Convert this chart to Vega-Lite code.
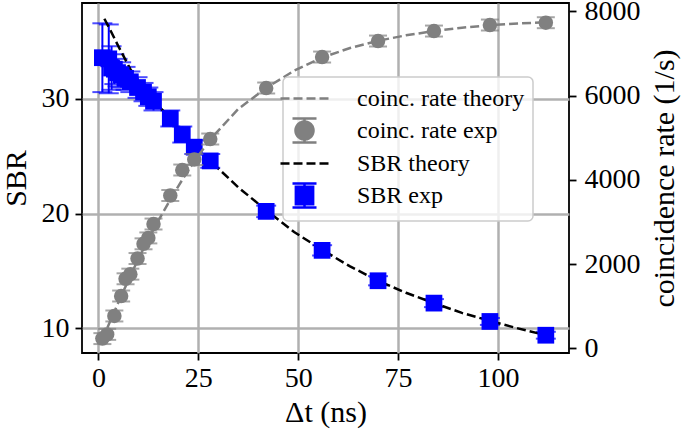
{
  "$schema": "https://vega.github.io/schema/vega-lite/v6.json",
  "width": 487,
  "height": 350,
  "autosize": {"type": "none"},
  "padding": {"left": 82, "top": 3, "right": 116, "bottom": 86},
  "background": "white",
  "datasets": {
    "sbr_exp": [
      {"dt": 1.0, "sbr": 33.6, "err": 3.0},
      {"dt": 2.6, "sbr": 33.5, "err": 3.0},
      {"dt": 3.3, "sbr": 32.7, "err": 1.9},
      {"dt": 4.0, "sbr": 32.6, "err": 1.3},
      {"dt": 4.8, "sbr": 32.3, "err": 1.2},
      {"dt": 5.7, "sbr": 32.1, "err": 1.1},
      {"dt": 6.8, "sbr": 31.8, "err": 1.0},
      {"dt": 8.0, "sbr": 31.5, "err": 0.9},
      {"dt": 9.8, "sbr": 31.0, "err": 0.9},
      {"dt": 11.3, "sbr": 30.6, "err": 0.8},
      {"dt": 12.5, "sbr": 30.2, "err": 0.8},
      {"dt": 13.8, "sbr": 29.8, "err": 0.8},
      {"dt": 18.0, "sbr": 28.3, "err": 0.7},
      {"dt": 21.0, "sbr": 26.9, "err": 0.7},
      {"dt": 24.0, "sbr": 25.8, "err": 0.6},
      {"dt": 28.0, "sbr": 24.6, "err": 0.6},
      {"dt": 42, "sbr": 20.2, "err": 0.5},
      {"dt": 56, "sbr": 16.8, "err": 0.45},
      {"dt": 70, "sbr": 14.15, "err": 0.4},
      {"dt": 84, "sbr": 12.2, "err": 0.35},
      {"dt": 98, "sbr": 10.6, "err": 0.3},
      {"dt": 112, "sbr": 9.4, "err": 0.3}
    ],
    "sbr_th": [
      {"dt": 1.5, "sbr": 37.0},
      {"dt": 3, "sbr": 36.0},
      {"dt": 5, "sbr": 34.6},
      {"dt": 8, "sbr": 32.6},
      {"dt": 10, "sbr": 31.6},
      {"dt": 12, "sbr": 30.6},
      {"dt": 14, "sbr": 29.8},
      {"dt": 18, "sbr": 28.3},
      {"dt": 21, "sbr": 27.0},
      {"dt": 24, "sbr": 25.8},
      {"dt": 28, "sbr": 24.6},
      {"dt": 35, "sbr": 22.3},
      {"dt": 42, "sbr": 20.3},
      {"dt": 49, "sbr": 18.4},
      {"dt": 56, "sbr": 16.85},
      {"dt": 63, "sbr": 15.4},
      {"dt": 70, "sbr": 14.15},
      {"dt": 77, "sbr": 13.1},
      {"dt": 84, "sbr": 12.2},
      {"dt": 91, "sbr": 11.35},
      {"dt": 98, "sbr": 10.65},
      {"dt": 105, "sbr": 10.0},
      {"dt": 112, "sbr": 9.4}
    ],
    "rate_exp": [
      {"dt": 1.0, "rate": 230, "err": 130},
      {"dt": 2.2, "rate": 330, "err": 130},
      {"dt": 4.0, "rate": 767, "err": 130},
      {"dt": 5.7, "rate": 1241, "err": 130},
      {"dt": 6.8, "rate": 1650, "err": 130},
      {"dt": 8.0, "rate": 1760, "err": 130},
      {"dt": 9.8, "rate": 2131, "err": 130},
      {"dt": 11.3, "rate": 2480, "err": 130},
      {"dt": 12.5, "rate": 2620, "err": 130},
      {"dt": 13.8, "rate": 2950, "err": 130},
      {"dt": 18.0, "rate": 3627, "err": 130},
      {"dt": 21.0, "rate": 4232, "err": 130},
      {"dt": 24.0, "rate": 4481, "err": 130},
      {"dt": 28.0, "rate": 4968, "err": 130},
      {"dt": 42, "rate": 6179, "err": 130},
      {"dt": 56, "rate": 6914, "err": 130},
      {"dt": 70, "rate": 7294, "err": 130},
      {"dt": 84, "rate": 7531, "err": 130},
      {"dt": 98, "rate": 7674, "err": 130},
      {"dt": 112, "rate": 7729, "err": 130}
    ],
    "rate_th": [
      {"dt": 1, "rate": 200},
      {"dt": 2, "rate": 430},
      {"dt": 4, "rate": 870},
      {"dt": 6, "rate": 1300},
      {"dt": 8, "rate": 1720},
      {"dt": 10, "rate": 2120},
      {"dt": 12, "rate": 2500},
      {"dt": 14, "rate": 2860},
      {"dt": 18, "rate": 3530},
      {"dt": 21, "rate": 4000},
      {"dt": 24, "rate": 4440},
      {"dt": 28, "rate": 4960},
      {"dt": 35, "rate": 5680},
      {"dt": 42, "rate": 6180},
      {"dt": 49, "rate": 6590},
      {"dt": 56, "rate": 6900},
      {"dt": 63, "rate": 7130},
      {"dt": 70, "rate": 7300},
      {"dt": 77, "rate": 7430},
      {"dt": 84, "rate": 7530},
      {"dt": 91, "rate": 7610},
      {"dt": 98, "rate": 7670},
      {"dt": 105, "rate": 7710},
      {"dt": 112, "rate": 7740}
    ]
  },
  "config": {
    "font": "Liberation Serif",
    "view": {"stroke": "black", "strokeWidth": 1.8},
    "axis": {
      "labelFont": "Liberation Serif",
      "titleFont": "Liberation Serif",
      "labelFontSize": 28,
      "titleFontSize": 30,
      "titleFontWeight": "normal",
      "labelColor": "black",
      "titleColor": "black",
      "tickColor": "black",
      "tickWidth": 1.8,
      "tickSize": 7,
      "domain": false,
      "gridColor": "#b0b0b0",
      "gridWidth": 2.5,
      "gridOpacity": 1
    }
  },
  "encoding": {
    "x": {
      "field": "dt",
      "type": "quantitative",
      "scale": {"domain": [-4.1, 117.8], "nice": false, "zero": false},
      "axis": {"title": "Δt (ns)", "values": [0, 25, 50, 75, 100], "grid": true, "labelPadding": 4, "titlePadding": 5}
    }
  },
  "layer": [
    {
      "encoding": {
        "y": {
          "field": "sbr",
          "type": "quantitative",
          "scale": {"domain": [7.85, 38.37], "nice": false, "zero": false},
          "axis": {"title": "SBR", "orient": "left", "values": [10, 20, 30], "grid": true, "labelPadding": 6, "titlePadding": 10}
        }
      },
      "layer": [
        {
          "data": {"name": "sbr_exp"},
          "mark": {"type": "errorbar", "color": "blue", "thickness": 2, "ticks": {"size": 20, "thickness": 2, "color": "blue"}},
          "encoding": {"yError": {"field": "err"}}
        },
        {
          "data": {"name": "sbr_th"},
          "mark": {"type": "line", "strokeDash": [9, 4], "strokeWidth": 2.5},
          "encoding": {
            "color": {
              "datum": "SBR theory",
              "scale": {
                "domain": ["coinc. rate theory", "coinc. rate exp", "SBR theory", "SBR exp"],
                "range": ["#808080", "#808080", "black", "blue"]
              },
              "legend": {
                "orient": "none",
                "legendX": 201,
                "legendY": 74,
                "title": null,
                "labelFont": "Liberation Serif",
                "labelFontSize": 24,
                "labelColor": "black",
                "labelLimit": 400,
                "symbolSize": 576,
                "labelOffset": 39,
                "rowPadding": 2,
                "padding": 8,
                "cornerRadius": 5,
                "fillColor": "rgba(255,255,255,0.8)",
                "strokeColor": "#cccccc",
                "encode": {
                  "legend": {"update": {"strokeWidth": {"value": 1.5}}},
                  "symbols": {
                    "update": {
                      "shape": {"signal": "datum.value === 'coinc. rate exp' ? 'M0.75,0C0.75,0.414 0.414,0.75 0,0.75C-0.414,0.75 -0.75,0.414 -0.75,0C-0.75,-0.414 -0.414,-0.75 0,-0.75C0.414,-0.75 0.75,-0.414 0.75,0ZM-1,-1H1M-1,1H1M0,-1V1' : (datum.value === 'SBR exp' ? 'M-0.72,-0.72H0.72V0.72H-0.72ZM-1,-1H1M-1,1H1M0,-1V1' : 'M-2,0H2')"},
                      "fill": {"signal": "(datum.value === 'coinc. rate exp' || datum.value === 'SBR exp') ? scale('color', datum.value) : 'transparent'"},
                      "stroke": {"signal": "scale('color', datum.value)"},
                      "strokeDash": {"signal": "(datum.value === 'coinc. rate theory' || datum.value === 'SBR theory') ? [9, 4] : [1, 0]"},
                      "strokeWidth": {"value": 2.5},
                      "opacity": {"value": 1},
                      "size": {"value": 576}
                    }
                  }
                }
              }
            }
          }
        },
        {
          "data": {"name": "sbr_exp"},
          "mark": {"type": "point", "shape": "square", "filled": true, "size": 280, "opacity": 1},
          "encoding": {"color": {"datum": "SBR exp"}}
        }
      ]
    },
    {
      "encoding": {
        "y": {
          "field": "rate",
          "type": "quantitative",
          "scale": {"domain": [-112, 8197], "nice": false, "zero": false},
          "axis": {"title": "coincidence rate (1/s)", "orient": "right", "values": [0, 2000, 4000, 6000, 8000], "format": "d", "grid": false, "labelPadding": 8, "titlePadding": 9, "titleAngle": 270, "titleBaseline": "top"}
        }
      },
      "layer": [
        {
          "data": {"name": "rate_exp"},
          "mark": {"type": "errorbar", "color": "#808080", "thickness": 2, "ticks": {"size": 18, "thickness": 2, "color": "#808080"}},
          "encoding": {"yError": {"field": "err"}}
        },
        {
          "data": {"name": "rate_th"},
          "mark": {"type": "line", "strokeDash": [9, 4], "strokeWidth": 2.5},
          "encoding": {"color": {"datum": "coinc. rate theory"}}
        },
        {
          "data": {"name": "rate_exp"},
          "mark": {"type": "point", "shape": "circle", "filled": true, "size": 210, "opacity": 1},
          "encoding": {"color": {"datum": "coinc. rate exp"}}
        }
      ]
    }
  ],
  "resolve": {"scale": {"y": "independent"}, "axis": {"y": "independent"}}
}
